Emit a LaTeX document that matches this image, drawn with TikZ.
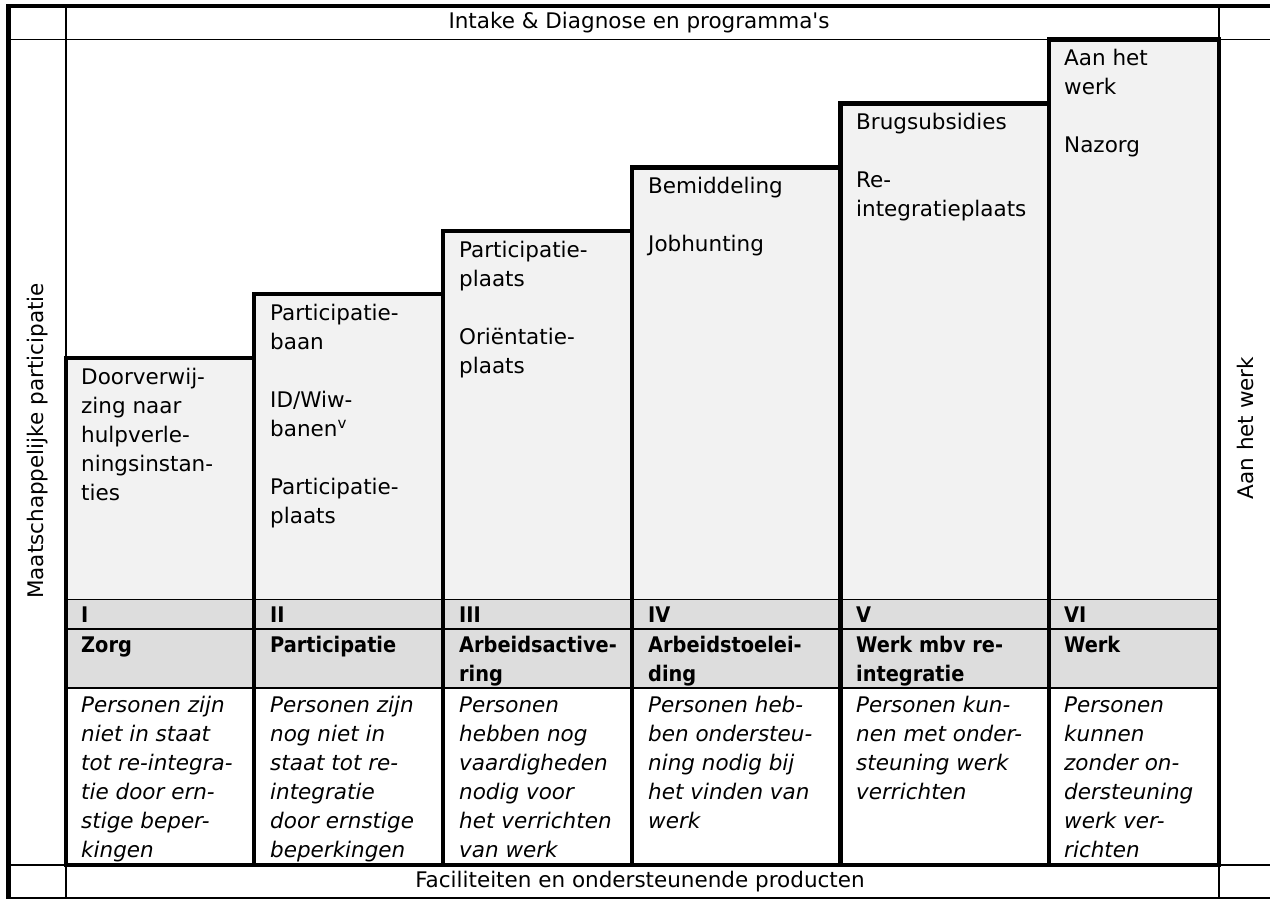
\documentclass[tikz,border=0pt]{standalone}
\usepackage{fontspec}
\setmainfont{DejaVu Sans}[Ligatures=TeXOff, BoldFont={DejaVu Sans Condensed Bold}]
\definecolor{boxgray}{gray}{0.949}
\definecolor{hdrgray}{gray}{0.867}
\newcommand\stacklines[5]{%
  \foreach \t [count=\i from 0] in {#5} {\node[lbl,#4] (#1-\i) at (#2,#3+29*\i) {\t};}}
\begin{document}
\begin{tikzpicture}[x=1pt,y=-1pt,
  thinln/.style={line width=1.8pt},
  thickln/.style={line width=4.6pt},
  lbl/.style={anchor=base west, inner sep=0pt, font=\fontsize{21.5}{29}\selectfont},
  plain/.style={inner sep=0pt, font=\fontsize{21.5}{29}\selectfont},
  bld/.style={font=\fontsize{21.5}{29}\selectfont\bfseries},
  itl/.style={font=\fontsize{21.5}{29}\selectfont\itshape}]
\useasboundingbox (0,0) rectangle (1270,899);
% fills of the steps
\foreach \L/\R/\T in {66/254/358, 254/443/294, 443/632/231, 632/840.5/167.5, 840.5/1049/103.5, 1049/1219/39.5}{
  \fill[boxgray] (\L,\T) rectangle (\R,599.5);
  \fill[hdrgray] (\L,599.5) rectangle (\R,688);
}
% thin grid lines
\draw[thinln] (9,39.5) -- (1270,39.5);
\draw[thinln] (9,865) -- (1270,865);
\draw[thinln] (9,897.8) -- (1270,897.8);
\draw[thinln] (66,6) -- (66,899);
\draw[thinln] (1219,6) -- (1219,899);
\draw[thinln] (66,599.5) -- (1219,599.5);
\draw[thinln] (66,629) -- (1219,629);
\draw[thinln] (66,688) -- (1219,688);
% thick outer border
\draw[thickln] (1270,6.2) -- (8.7,6.2) -- (8.7,899);
% thick step boxes
\foreach \L/\R/\T in {66/254/358, 254/443/294, 443/632/231, 632/840.5/167.5, 840.5/1049/103.5, 1049/1219/39.5}{
  \draw[thickln, line join=miter] (\L,\T) rectangle (\R,865);
}
% header / footer / side labels
\node[plain] (top) at (639,23) {Intake \& Diagnose en programma's};
\node[plain] (bottom) at (640,882) {Faciliteiten en ondersteunende producten};
\node[plain, rotate=90] (left) at (38,441) {Maatschappelijke participatie};
\node[plain, rotate=90] (right) at (1245,428) {Aan het werk};
% step contents
\stacklines{a1}{81}{384}{}{Doorverwij-, zing naar, hulpverle-, ningsinstan-, ties}
\stacklines{a2}{270}{320}{}{Participatie-, baan, , ID/Wiw-, {banen\textsuperscript{v}}, , Participatie-, plaats}
\stacklines{a3}{459}{257}{}{Participatie-, plaats, , Oriëntatie-, plaats}
\stacklines{a4}{648}{193.5}{}{Bemiddeling, , Jobhunting}
\stacklines{a5}{856}{129.5}{}{Brugsubsidies, , Re-, integratieplaats}
\stacklines{a6}{1064}{65.5}{}{Aan het, werk, , Nazorg}
% roman numerals
\node[lbl,bld] (r1) at (81,622.5) {I};
\node[lbl,bld] (r2) at (270,622.5) {II};
\node[lbl,bld] (r3) at (459,622.5) {III};
\node[lbl,bld] (r4) at (648,622.5) {IV};
\node[lbl,bld] (r5) at (856,622.5) {V};
\node[lbl,bld] (r6) at (1064,622.5) {VI};
% titles
\stacklines{t1}{81}{652.7}{bld}{Zorg}
\stacklines{t2}{270}{652.7}{bld}{Participatie}
\stacklines{t3}{459}{652.7}{bld}{Arbeidsactive-, ring}
\stacklines{t4}{648}{652.7}{bld}{Arbeidstoelei-, ding}
\stacklines{t5}{856}{652.7}{bld}{Werk mbv re-, integratie}
\stacklines{t6}{1064}{652.7}{bld}{Werk}
% descriptions
\stacklines{d1}{81}{712.7}{itl}{Personen zijn, niet in staat, tot re-integra-, tie door ern-, stige beper-, kingen}
\stacklines{d2}{270}{712.7}{itl}{Personen zijn, nog niet in, staat tot re-, integratie, door ernstige, beperkingen}
\stacklines{d3}{459}{712.7}{itl}{Personen, hebben nog, vaardigheden, nodig voor, het verrichten, van werk}
\stacklines{d4}{648}{712.7}{itl}{Personen heb-, ben ondersteu-, ning nodig bij, het vinden van, werk}
\stacklines{d5}{856}{712.7}{itl}{Personen kun-, nen met onder-, steuning werk, verrichten}
\stacklines{d6}{1064}{712.7}{itl}{Personen, kunnen, zonder on-, dersteuning, werk ver-, richten}
\end{tikzpicture}
\end{document}
